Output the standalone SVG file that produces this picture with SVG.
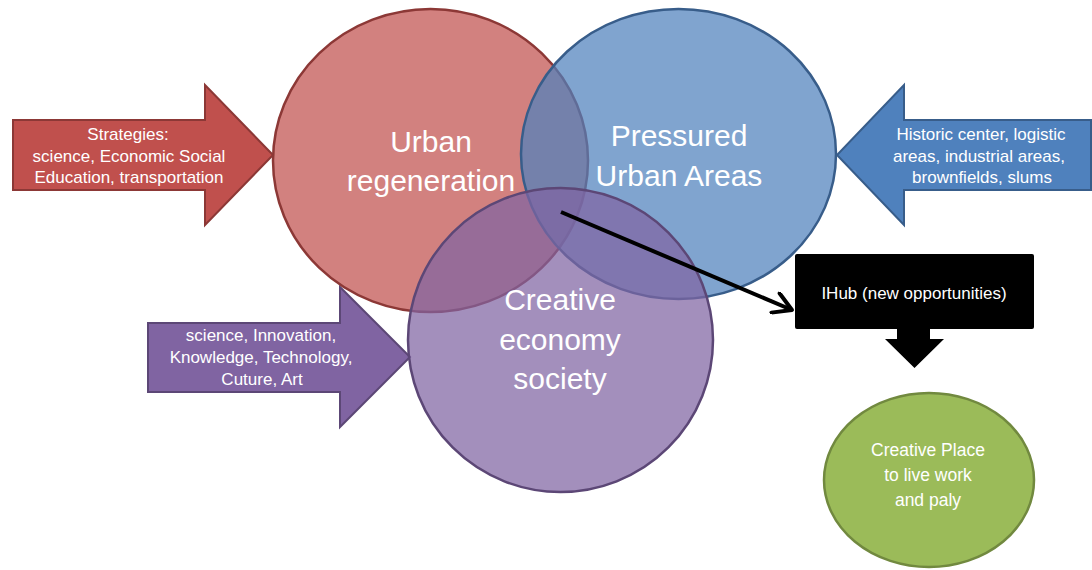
<svg xmlns="http://www.w3.org/2000/svg" width="1092" height="570" viewBox="0 0 1092 570">
  <defs>
    <style>
      text { font-family: "Liberation Sans", Arial, sans-serif; fill: #FFFFFF; text-anchor: middle; }
      .big { font-size: 30px; }
      .small { font-size: 17px; }
      .green-t { font-size: 17.5px; }
      .arrow-red { fill: #C0504D; stroke: #8C3836; stroke-width: 2; }
      .arrow-blue { fill: #4F81BD; stroke: #385D8A; stroke-width: 2; }
      .arrow-purple { fill: #8064A2; stroke: #5C4776; stroke-width: 2; }
      .c-red { fill: #C0504D; fill-opacity: 0.72; stroke: #8C3836; stroke-width: 2.5; }
      .c-blue { fill: #4F81BD; fill-opacity: 0.72; stroke: #385D8A; stroke-width: 2.5; }
      .c-purple { fill: #8064A2; fill-opacity: 0.72; stroke: #5C4776; stroke-width: 2.5; }
      .c-green { fill: #9BBB59; stroke: #71893F; stroke-width: 2.5; }
      .conn { fill: none; stroke: #000000; stroke-width: 4; }
    </style>
    <marker id="openHead" viewBox="0 0 24 24" refX="22" refY="12" markerWidth="24" markerHeight="24" markerUnits="userSpaceOnUse" orient="auto">
      <path d="M4,1.5 L22,12 L4,22.5" fill="none" stroke="#000000" stroke-width="4" stroke-linecap="round" stroke-linejoin="round"/>
    </marker>
  </defs>

  <rect x="0" y="0" width="1092" height="570" fill="#FFFFFF"/>

  <g id="strategies-arrow">
    <polygon class="arrow-red" points="13,120 205,120 205,85 273,155 205,225 205,190 13,190"/>
    <text class="small" x="128" y="140">Strategies:</text>
    <text class="small" x="129" y="161.5">science, Economic Social</text>
    <text class="small" x="129" y="183">Education, transportation</text>
  </g>

  <g id="areas-arrow">
    <polygon class="arrow-blue" points="1091,120 904,120 904,85 837,155 904,225 904,190 1091,190"/>
    <text class="small" x="981" y="139.5">Historic center, logistic</text>
    <text class="small" x="979" y="161.5">areas, industrial areas,</text>
    <text class="small" x="982" y="183">brownfields, slums</text>
  </g>

  <g id="innovation-arrow">
    <polygon class="arrow-purple" points="148,323 340,323 340,287 410,357 340,427 340,392 148,392"/>
    <text class="small" x="261" y="340.5">science, Innovation,</text>
    <text class="small" x="261" y="362.5">Knowledge, Technology,</text>
    <text class="small" x="262" y="385">Cuture, Art</text>
  </g>

  <g id="urban-regeneration">
    <ellipse class="c-red" cx="430.5" cy="160.5" rx="157.5" ry="151.5"/>
    <text class="big" x="431" y="152">Urban</text>
    <text class="big" x="431" y="191">regeneration</text>
  </g>

  <g id="pressured-urban-areas">
    <ellipse class="c-blue" cx="678.5" cy="154" rx="157.5" ry="145"/>
    <text class="big" x="679" y="146">Pressured</text>
    <text class="big" x="679" y="186">Urban Areas</text>
  </g>

  <g id="creative-economy">
    <ellipse class="c-purple" cx="560.5" cy="340" rx="152.5" ry="152"/>
    <text class="big" x="560" y="310">Creative</text>
    <text class="big" x="560" y="350">economy</text>
    <text class="big" x="560" y="389">society</text>
  </g>

  <g id="ihub">
    <rect x="795" y="254" width="239" height="75" rx="2" fill="#000000"/>
    <text class="small" x="914" y="299">IHub (new opportunities)</text>
  </g>

  <g id="creative-place">
    <ellipse class="c-green" cx="929" cy="480" rx="105" ry="87"/>
    <text class="green-t" x="928" y="456">Creative Place</text>
    <text class="green-t" x="928" y="480.5">to live work</text>
    <text class="green-t" x="928" y="505.5">and paly</text>
  </g>

  <g id="connectors">
    <line class="conn" x1="561" y1="212" x2="792" y2="310" marker-end="url(#openHead)"/>
    <polygon points="897,329 930,329 930,339 944,339 914.5,368 885,339 897,339" fill="#000000"/>
  </g>
</svg>
